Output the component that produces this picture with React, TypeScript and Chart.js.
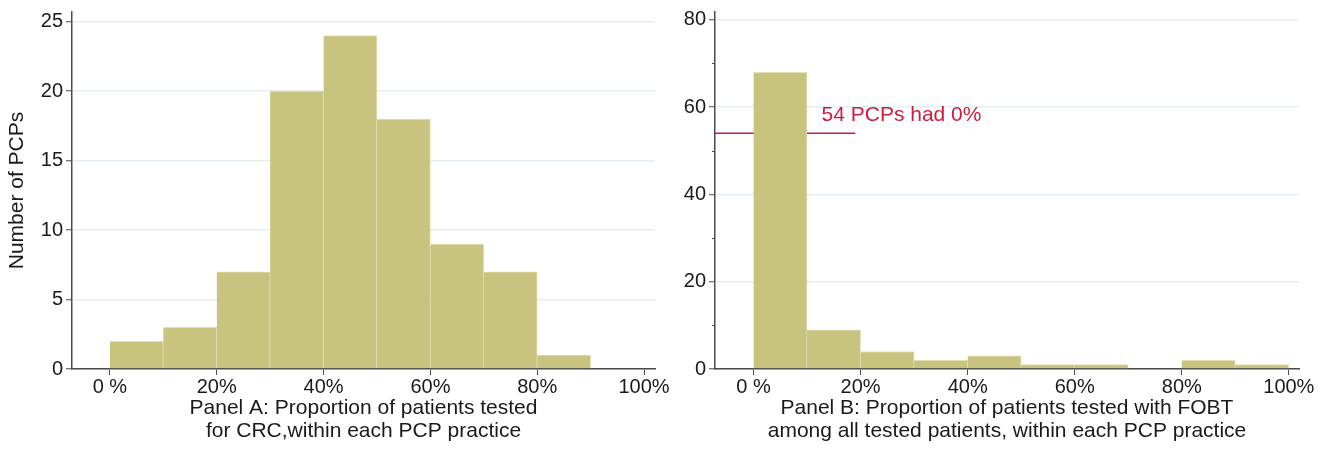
import React, { useEffect, useRef } from "react";
import { Chart, registerables } from "chart.js";
Chart.register(...registerables);

// ---- data ----
const binStarts = [0, 10, 20, 30, 40, 50, 60, 70, 80, 90];
const binWidth = 10;
const countsA = [2, 3, 7, 20, 24, 18, 9, 7, 1, 0];
const countsB = [68, 9, 4, 2, 3, 1, 1, 0, 2, 1];
const xTickValues = [0, 20, 40, 60, 80, 100];
const xTickLabels = ["0 %", "20%", "40%", "60%", "80%", "100%"];
const yTicksA = [0, 5, 10, 15, 20, 25];
const yTicksB = [0, 20, 40, 60, 80];
const yMinorTicksB = [10, 30, 50, 70];
const yTitleA = "Number of PCPs";
const xTitleA = ["Panel A: Proportion of patients tested", "for CRC,within each PCP practice"];
const xTitleB = [
  "Panel B: Proportion of patients tested with FOBT",
  "among all tested patients, within each PCP practice",
];
const markerValue = 54;
const markerEnd = 19;
const markerText = "54 PCPs had 0%";

// ---- styles ----
const FONT = "'Liberation Sans', Arial, sans-serif";
const TEXT = "#1a1a1a";
const AXIS = "#4a4a4a";
const GRID = "#e4eef0";
const BAR = "#c9c380";
const BAR_EDGE = "#e4dfb2";
const RED = "#d01a40";

type Panel = {
  counts: number[];
  yTicks: number[];
  yMax: number;
  xMin: number;
  xMax: number;
  yWidth: number;
  yTitle: string | null;
  xTitle: string[];
  minor: number[];
  marker: boolean;
};

function buildConfig(p: Panel, rightPad: number): any {
  const datasets: any[] = [
    {
      type: "bar",
      data: binStarts.map((b, i) => ({ x: b + binWidth / 2, y: p.counts[i] })),
      backgroundColor: BAR,
      borderColor: BAR_EDGE,
      borderWidth: { top: 1, right: 1, left: 0, bottom: 0 },
      borderSkipped: false,
      barPercentage: 1,
      categoryPercentage: 1,
      order: 1,
    },
  ];
  if (p.marker) {
    datasets.push({
      type: "line",
      data: [
        { x: p.xMin, y: markerValue },
        { x: markerEnd, y: markerValue },
      ],
      borderColor: RED,
      borderWidth: 1.5,
      pointRadius: 0,
      order: 2,
    });
  }
  const overlay = {
    id: "overlay",
    afterDraw(chart: any) {
      const ctx = chart.ctx;
      const xs = chart.scales.x;
      const ys = chart.scales.y;
      ctx.save();
      ctx.strokeStyle = AXIS;
      ctx.lineWidth = 1;
      p.minor.forEach((v) => {
        const y = Math.round(ys.getPixelForValue(v)) + 0.5;
        ctx.beginPath();
        ctx.moveTo(xs.left - 3, y);
        ctx.lineTo(xs.left, y);
        ctx.stroke();
      });
      if (p.marker) {
        ctx.fillStyle = RED;
        ctx.font = `21px ${FONT}`;
        ctx.textBaseline = "middle";
        ctx.textAlign = "left";
        ctx.fillText(markerText, xs.getPixelForValue(12.7), ys.getPixelForValue(58.1));
      }
      ctx.restore();
    },
  };
  return {
    type: "bar",
    data: { datasets },
    plugins: [overlay],
    options: {
      animation: false,
      responsive: false,
      layout: { padding: { top: 12, left: 0, right: rightPad, bottom: 0 } },
      plugins: { legend: { display: false }, tooltip: { enabled: false } },
      scales: {
        x: {
          type: "linear",
          offset: false,
          min: p.xMin,
          max: p.xMax,
          afterBuildTicks: (s: any) => {
            s.ticks = xTickValues.map((v) => ({ value: v }));
          },
          afterFit: (s: any) => {
            s.height = 90;
            s.paddingLeft = 0;
            s.paddingRight = 0;
          },
          ticks: {
            autoSkip: false,
            maxRotation: 0,
            padding: 0,
            color: TEXT,
            font: { size: 20, family: FONT },
            callback: (v: number) => {
              const i = xTickValues.indexOf(v);
              return i >= 0 ? xTickLabels[i] : "";
            },
          },
          grid: {
            offset: false,
            drawOnChartArea: false,
            drawTicks: true,
            tickLength: 6,
            tickColor: AXIS,
            tickWidth: 1,
          },
          border: { display: true, color: AXIS, width: 1.5 },
          title: {
            display: true,
            text: p.xTitle,
            color: TEXT,
            font: { size: 21, family: FONT, lineHeight: 1.1 },
            padding: { top: 0, bottom: 16 },
          },
        },
        y: {
          type: "linear",
          min: 0,
          max: p.yMax,
          afterBuildTicks: (s: any) => {
            s.ticks = p.yTicks.map((v) => ({ value: v }));
          },
          afterFit: (s: any) => {
            s.width = p.yWidth;
            s.paddingTop = 0;
            s.paddingBottom = 0;
          },
          ticks: {
            padding: 3,
            color: TEXT,
            font: { size: 20, family: FONT },
          },
          grid: { color: GRID, lineWidth: 1.5, drawTicks: true, tickLength: 6, tickColor: AXIS, tickWidth: 1 },
          border: { display: true, color: AXIS, width: 1.5 },
          title: {
            display: !!p.yTitle,
            text: p.yTitle || "",
            color: TEXT,
            font: { size: 21, family: FONT },
            padding: { top: 5, bottom: 0 },
          },
        },
      },
    },
  };
}

function ChartCanvas({
  panel,
  rightPad,
  left,
  width,
}: {
  panel: Panel;
  rightPad: number;
  left: number;
  width: number;
}) {
  const ref = useRef<HTMLCanvasElement | null>(null);
  useEffect(() => {
    if (!ref.current) return;
    const chart = new Chart(ref.current, buildConfig(panel, rightPad));
    return () => chart.destroy();
  }, []);
  return (
    <canvas
      ref={ref}
      width={width}
      height={459}
      style={{ position: "absolute", left, top: 0, width, height: 459 }}
    />
  );
}

const panelA: Panel = {
  counts: countsA,
  yTicks: yTicksA,
  yMax: 25.7,
  xMin: -7.1,
  xMax: 102.05,
  yWidth: 72,
  yTitle: yTitleA,
  xTitle: xTitleA,
  minor: [],
  marker: false,
};

const panelB: Panel = {
  counts: countsB,
  yTicks: yTicksB,
  yMax: 81.8,
  xMin: -7.2,
  xMax: 101.9,
  yWidth: 55,
  yTitle: null,
  xTitle: xTitleB,
  minor: yMinorTicksB,
  marker: true,
};

export default function App() {
  return (
    <div
      style={{
        position: "absolute",
        left: 0,
        top: 0,
        width: 1320,
        height: 459,
        background: "#fff",
        overflow: "hidden",
      }}
    >
      <ChartCanvas panel={panelA} rightPad={25} left={0} width={680} />
      <ChartCanvas panel={panelB} rightPad={21} left={660} width={660} />
    </div>
  );
}
